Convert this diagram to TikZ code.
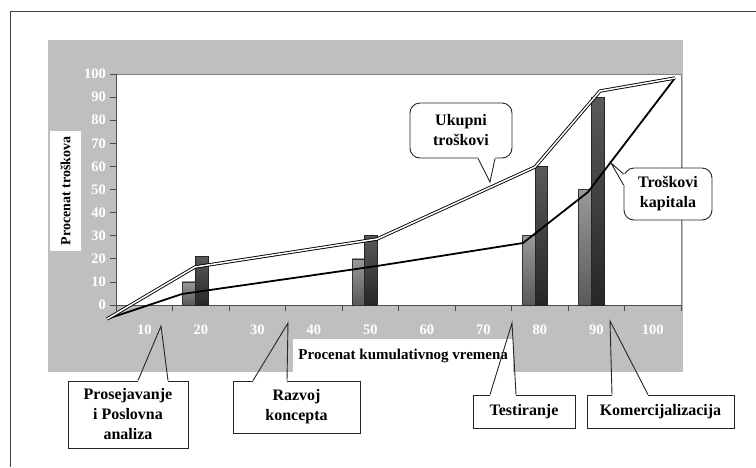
\documentclass[tikz,border=0pt]{standalone}
\usepackage{fontspec}
\setmainfont{Liberation Serif}
\usepackage{tikz}

\tikzset{
  callbox/.style={draw=black!85, line width=0.9pt, fill=white, align=center,
    font=\fontsize{16}{20}\selectfont\bfseries, inner sep=0pt},
  roundbox/.style={callbox, rounded corners=10pt},
  callline/.style={draw=black!85, line width=0.9pt, line join=miter},
  axisnum/.style={text=white, font=\fontsize{14.5}{14.5}\selectfont\bfseries, inner sep=1pt},
  axistitle/.style={fill=white, font=\fontsize{15}{15}\selectfont\bfseries, inner sep=0pt},
  axisline/.style={black!70, line width=0.7pt},
  lightbar/.style={draw=black!80, line width=0.6pt, top color=black!40, bottom color=black!65},
  darkbar/.style={draw=black!85, line width=0.6pt, top color=black!65, bottom color=black!85},
  totalline/.style={draw=black, double=white, double distance=1.5pt, line width=0.9pt, line join=round},
  capitalline/.style={black, line width=1.8pt, line join=round}
}

\begin{document}
\begin{tikzpicture}[x=1pt, y=-1pt]
  \useasboundingbox (0,0) rectangle (756,467);
  % frame and chart background
  \draw[black!75, line width=1pt] (10,467) -- (10,11) -- (756,11);
  \fill[black!25] (48,40) rectangle (683,372);
  \draw[gray, fill=white] (116,74) rectangle (681,305);

  % axes
  \draw[axisline] (116,74) -- (116,305) -- (681,305);
  \foreach \v [evaluate=\v as \lab using int(10*\v)] in {0,...,10} {
    \draw[axisline] (110,{305-23.1*\v}) -- (116,{305-23.1*\v});
    \node[axisnum, anchor=east] (ylab\v) at (107,{305-23.1*\v}) {\lab};
  }
  \foreach \i in {0,...,10}
    \draw[axisline] ({116+56.5*\i},305) -- ({116+56.5*\i},311);
  \foreach \i [evaluate=\i as \lab using int(10*\i)] in {1,...,10}
    \node[axisnum] (xlab\i) at ({116+56.5*\i-28.25},330) {\lab};

  \node[axistitle, anchor=north west, minimum width=220pt, minimum height=33pt]
    (xtitle) at (293,339) {Procenat kumulativnog vremena};
  \node[axistitle, font=\fontsize{14}{14}\selectfont\bfseries, rotate=90,
    minimum width=120pt, minimum height=31pt] (ytitle) at (65.5,191) {Procenat troškova};

  % bars
  \begin{scope}[shift={(0,305)}, y=2.31pt]
    \draw[lightbar] (182,0) rectangle (195,10);
    \draw[darkbar]  (195,0) rectangle (208,21);
    \draw[lightbar] (352,0) rectangle (364,20);
    \draw[darkbar]  (364,0) rectangle (377,30);
    \draw[lightbar] (522,0) rectangle (535,30);
    \draw[darkbar]  (535,0) rectangle (547,60);
    \draw[lightbar] (578,0) rectangle (591,50);
    \draw[darkbar]  (591,0) rectangle (604,90);
  \end{scope}

  % cost curves
  \draw[capitalline] (107,319) -- (182,294) -- (377,266) -- (523,243) -- (588,192) -- (675,78);
  \draw[totalline] (107,319) -- (195,267) -- (377,239) -- (535,167) -- (600,91) -- (675,78);

  % callouts: box, gap in its border, open wedge
  \node[roundbox, minimum width=102pt, minimum height=55pt] (ukupni) at (461,130.5) {Ukupni\\troškovi};
  \coordinate (ukupnitip) at (490,182);
  \fill[white] ([xshift=17pt,yshift=-1pt]ukupni.south) rectangle ([xshift=34pt,yshift=2pt]ukupni.south);
  \draw[callline] ([xshift=17pt]ukupni.south) -- (ukupnitip) -- ([xshift=34pt]ukupni.south);

  \node[roundbox, minimum width=88pt, minimum height=52pt] (kapital) at (668,194) {Troškovi\\kapitala};
  \coordinate (kapitaltip) at (611,163);
  \fill[white] ([xshift=-1pt,yshift=9pt]kapital.west) rectangle ([xshift=2pt,yshift=20pt]kapital.west);
  \draw[callline] ([yshift=20pt]kapital.west) -- (kapitaltip) -- ([yshift=9pt]kapital.west);

  \node[callbox, minimum width=120pt, minimum height=67pt] (prosej) at (128,414.5) {Prosejavanje\\i Poslovna\\analiza};
  \coordinate (prosejtip) at (161,326);
  \fill[white] ([xshift=10pt,yshift=1pt]prosej.north) rectangle ([xshift=40pt,yshift=-2pt]prosej.north);
  \draw[callline] ([xshift=10pt]prosej.north) -- (prosejtip) -- ([xshift=40pt]prosej.north);

  \node[callbox, minimum width=127pt, minimum height=52pt] (razvoj) at (296.5,407) {Razvoj\\koncepta};
  \coordinate (razvojtip) at (288,323);
  \fill[white] ([xshift=-43.5pt,yshift=1pt]razvoj.north) rectangle ([xshift=-9.5pt,yshift=-2pt]razvoj.north);
  \draw[callline] ([xshift=-43.5pt]razvoj.north) -- (razvojtip) -- ([xshift=-9.5pt]razvoj.north);

  \node[callbox, minimum width=102pt, minimum height=33pt] (testir) at (524,411.5) {Testiranje};
  \coordinate (testirtip) at (512,323);
  \fill[white] ([xshift=-34pt,yshift=1pt]testir.north) rectangle ([xshift=-8pt,yshift=-2pt]testir.north);
  \draw[callline] ([xshift=-34pt]testir.north) -- (testirtip) -- ([xshift=-8pt]testir.north);

  \node[callbox, minimum width=147pt, minimum height=33pt] (komerc) at (660.5,411.5) {Komercijalizacija};
  \coordinate (komerctip) at (610,321);
  \fill[white] ([xshift=-48.5pt,yshift=1pt]komerc.north) rectangle ([xshift=-12.5pt,yshift=-2pt]komerc.north);
  \draw[callline] ([xshift=-48.5pt]komerc.north) -- (komerctip) -- ([xshift=-12.5pt]komerc.north);
\end{tikzpicture}
\end{document}
